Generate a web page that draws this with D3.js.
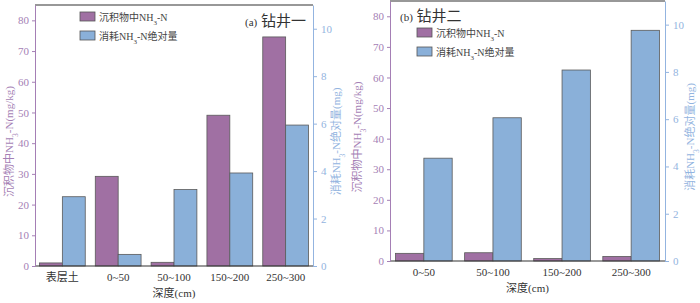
<!DOCTYPE html>
<html>
<head>
<meta charset="utf-8">
<script src="https://cdn.jsdelivr.net/npm/d3@7/dist/d3.min.js"></script>
<style>
  body { margin: 0; background: #fff; }
  text { font-family: "Liberation Serif", "Noto Sans CJK SC", serif; }
</style>
</head>
<body>
<div id="figure"></div>
<script>
var w = 700;
var h = 303;

// depth categories
var catsA = ['表层土', '0~50', '50~100', '150~200', '250~300'];
var catsB = ['0~50', '50~100', '150~200', '250~300'];
// NH3-N in sediment (mg/kg), left axis
var nh3A = [1.0, 29.2, 1.2, 49.1, 74.6];
var nh3B = [2.5, 2.7, 0.8, 1.5];
// consumed NH3-N absolute amount (mg), right axis
var useA = [2.92, 0.49, 3.22, 3.92, 5.94];
var useB = [4.35, 6.06, 8.08, 9.76];
// axis ticks
var leftTicks = [0, 10, 20, 30, 40, 50, 60, 70, 80];
var rightTicks = [0, 2, 4, 6, 8, 10];

var purple = '#a070a3';
var purpleText = '#a57fb5';
var blue = '#8ab0d9';
var blueText = '#93b4e0';

var svg = d3.select('#figure')
	.append('svg')
	.attr('width', w)
	.attr('height', h);

function label(sel, parts) {
	parts.forEach(function(p){
		var t = sel.append('tspan').text(p[0]);
		if (p[1]) t.attr('font-size', '0.7em').attr('baseline-shift', 'sub');
	});
}

function drawPanel(opt) {
	var left = opt.left, right = opt.right, top = opt.top, bottom = opt.bottom;
	var g = svg.append('g');

	var x = d3.scaleBand()
		.domain(opt.cats)
		.range([left, right])
		.paddingInner(0.18)
		.paddingOuter(0.08);
	var yL = d3.scaleLinear().domain([0, 85]).range([bottom, top]);
	var yR = d3.scaleLinear().domain([0, 11]).range([bottom, top]);

	var rows = opt.cats.map(function(c, i){
		return { cat: c, a: opt.nh3[i], b: opt.use[i] };
	});
	var bw = x.bandwidth() / 2;

	g.selectAll('rect.nh3')
		.data(rows)
		.enter()
		.append('rect')
		.attr('x', function(d){ return x(d.cat); })
		.attr('y', function(d){ return yL(d.a); })
		.attr('width', bw)
		.attr('height', function(d){ return bottom - yL(d.a); })
		.attr('fill', purple)
		.attr('stroke', '#5a5a5a')
		.attr('stroke-width', 0.8);

	g.selectAll('rect.use')
		.data(rows)
		.enter()
		.append('rect')
		.attr('x', function(d){ return x(d.cat) + bw; })
		.attr('y', function(d){ return yR(d.b); })
		.attr('width', bw)
		.attr('height', function(d){ return bottom - yR(d.b); })
		.attr('fill', blue)
		.attr('stroke', '#5a5a5a')
		.attr('stroke-width', 0.8);

	// frame top / bottom
	g.append('line').attr('x1', left).attr('x2', right).attr('y1', top).attr('y2', top)
		.attr('stroke', '#333').attr('stroke-width', 1.2);
	g.append('line').attr('x1', left).attr('x2', right).attr('y1', bottom).attr('y2', bottom)
		.attr('stroke', '#333').attr('stroke-width', 1.2);

	// left axis
	var ax = g.append('g')
		.attr('transform', 'translate(' + left + ',0)')
		.call(d3.axisLeft(yL).tickValues(leftTicks).tickSize(3).tickPadding(3).tickSizeOuter(0));
	ax.select('.domain').attr('stroke', purpleText);
	ax.selectAll('.tick line').attr('stroke', purpleText);
	ax.selectAll('.tick text').attr('fill', purpleText).attr('font-size', 11);

	// right axis
	var ar = g.append('g')
		.attr('transform', 'translate(' + right + ',0)')
		.call(d3.axisRight(yR).tickValues(rightTicks).tickSize(4).tickPadding(4).tickSizeOuter(0));
	ar.select('.domain').attr('stroke', blueText);
	ar.selectAll('.tick line').attr('stroke', blueText);
	ar.selectAll('.tick text').attr('fill', blueText).attr('font-size', 11);

	// bottom axis
	var ab = g.append('g')
		.attr('transform', 'translate(0,' + bottom + ')')
		.call(d3.axisBottom(x).tickSize(0).tickPadding(7));
	ab.select('.domain').remove();
	ab.selectAll('.tick text').attr('fill', '#333').attr('font-size', 11);

	// axis titles
	var cx = (left + right) / 2, cy = (top + bottom) / 2 + 6;
	g.append('text')
		.attr('x', cx).attr('y', bottom + 31)
		.attr('text-anchor', 'middle')
		.attr('font-size', 11)
		.attr('fill', '#333')
		.text('深度(cm)');

	var tl = g.append('text')
		.attr('transform', 'translate(' + opt.ylabL + ',' + cy + ') rotate(-90)')
		.attr('text-anchor', 'middle')
		.attr('font-size', 11)
		.attr('fill', purpleText);
	label(tl, [['沉积物中NH'], ['3', true], ['-N(mg/kg)']]);

	var tr = g.append('text')
		.attr('transform', 'translate(' + opt.ylabR + ',' + cy + ') rotate(-90)')
		.attr('text-anchor', 'middle')
		.attr('font-size', 11)
		.attr('fill', blueText);
	label(tr, [['消耗NH'], ['3', true], ['-N绝对量(mg)']]);

	// legend
	var lg = g.append('g');
	var items = [['沉积物中NH', '-N', purple], ['消耗NH', '-N绝对量', blue]];
	items.forEach(function(it, i){
		var yy = opt.legY + i * 19;
		lg.append('rect')
			.attr('x', opt.legX).attr('y', yy)
			.attr('width', 15).attr('height', 9)
			.attr('fill', it[2])
			.attr('stroke', '#555').attr('stroke-width', 0.8);
		var t = lg.append('text')
			.attr('x', opt.legX + 19).attr('y', yy + 8.5)
			.attr('font-size', 10)
			.attr('fill', '#444');
		label(t, [[it[0]], ['3', true], [it[1]]]);
	});

	// panel tag
	var tag = g.append('text')
		.attr('x', opt.tagX).attr('y', opt.tagY)
		.attr('fill', '#333');
	tag.append('tspan').attr('font-size', 11).text(opt.tag[0]);
	tag.append('tspan').attr('font-size', 15).text(' ' + opt.tag[1]);
}

drawPanel({
	cats: catsA, nh3: nh3A, use: useA,
	left: 35, right: 313, top: 5, bottom: 266,
	ylabL: 13, ylabR: 340,
	legX: 80, legY: 12,
	tagX: 245, tagY: 26, tag: ['(a)', '钻井一']
});

drawPanel({
	cats: catsB, nh3: nh3B, use: useB,
	left: 390, right: 665, top: 1, bottom: 261,
	ylabL: 361, ylabR: 694,
	legX: 417, legY: 28,
	tagX: 400, tagY: 21, tag: ['(b)', '钻井二']
});
</script>
</body>
</html>
